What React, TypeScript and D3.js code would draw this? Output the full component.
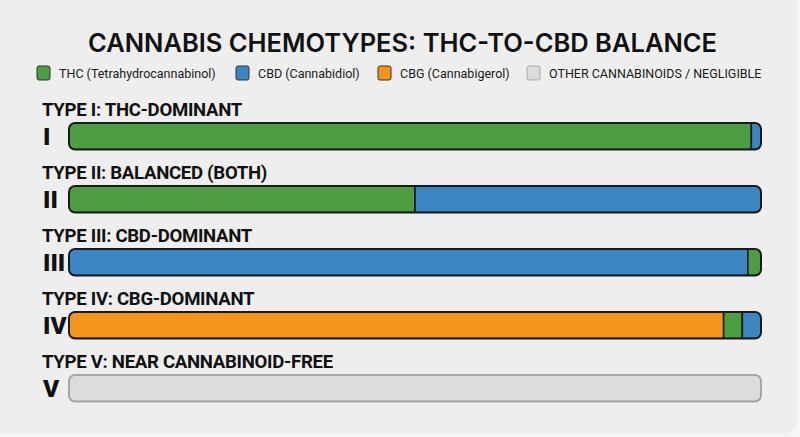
import React from "react";
import * as d3 from "d3";

const keys = ["THC", "CBD", "CBG", "OTHER"];
const legendLabels = [
  "THC (Tetrahydrocannabinol)",
  "CBD (Cannabidiol)",
  "CBG (Cannabigerol)",
  "OTHER CANNABINOIDS / NEGLIGIBLE",
];
const colors = ["#4d9e42", "#3a86c3", "#f3951b", "#dcdcdc"];
const typeTitles = [
  "TYPE I: THC-DOMINANT",
  "TYPE II: BALANCED (BOTH)",
  "TYPE III: CBD-DOMINANT",
  "TYPE IV: CBG-DOMINANT",
  "TYPE V: NEAR CANNABINOID-FREE",
];
const numerals = ["I", "II", "III", "IV", "V"];
const thcValues = [98.6, 50, 1.9, 2.7, 0];
const cbdValues = [1.4, 50, 98.1, 2.7, 0];
const cbgValues = [0, 0, 0, 94.6, 0];
const otherValues = [0, 0, 0, 0, 100];
// left-to-right segment order per row
const rowOrders = [
  ["THC", "CBD"],
  ["THC", "CBD"],
  ["CBD", "THC"],
  ["CBG", "THC", "CBD"],
  ["OTHER"],
];

const W = 800;
const H = 437;

export default function App() {
  const vals: Record<string, number[]> = {
    THC: thcValues,
    CBD: cbdValues,
    CBG: cbgValues,
    OTHER: otherValues,
  };
  const x = d3.scaleLinear().domain([0, 100]).range([69, 761]);
  const y = d3.scalePoint<number>().domain(d3.range(5)).range([136.3, 388.3]);
  const barH = 26.5;
  const colorOf = d3.scaleOrdinal<string, string>().domain(keys).range(colors);

  return (
    <div style={{ position: "fixed", left: 0, top: 0 }}>
      <svg width={W} height={H} style={{ display: "block" }}>
        <rect width={W} height={H} fill="#f6f6f6" />
        <rect x={-20} y={-20} width={W + 17} height={H + 17} rx={14} fill="#eeeeee" />
        <text x={402.5} y={52} textAnchor="middle" fontFamily="Inter, 'Noto Sans', sans-serif" fontWeight={600} fontSize={25.5} fill="#111" textLength={629} lengthAdjust="spacingAndGlyphs">
          CANNABIS CHEMOTYPES: THC-TO-CBD BALANCE
        </text>
        {(() => {
          const xs = [37, 236, 378, 527];
          return legendLabels.map((l, i) => (
            <g key={l}>
              <rect x={xs[i]} y={66} width={13} height={14} rx={2} fill={colors[i]} stroke={i === 3 ? "#aaa" : "#333"} strokeWidth={1} />
              <text x={xs[i] + 22} y={78} fontFamily="Roboto, sans-serif" fontSize={12.5} fill="#1a1a1a">
                {l}
              </text>
            </g>
          ));
        })()}
        <defs>
          {d3.range(5).map((i) => (
            <clipPath id={`clip${i}`} key={i}>
              <rect x={x(0)} y={(y(i) as number) - barH / 2} width={x(100) - x(0)} height={barH} rx={6} />
            </clipPath>
          ))}
        </defs>
        {d3.range(5).map((i) => {
          const cy = y(i) as number;
          const y0 = cy - barH / 2;
          const order = rowOrders[i];
          const stack = d3.stack<any>().keys(order)([Object.fromEntries(order.map((k) => [k, vals[k][i]]))]);
          const isOther = order.length === 1 && order[0] === "OTHER";
          return (
            <g key={i}>
              <text x={42} y={y0 - 7.5} fontFamily="Roboto, sans-serif" fontWeight={700} fontSize={18.6} fill="#111" letterSpacing={-0.3}>
                {typeTitles[i]}
              </text>
              <text x={43} y={cy + 8.5} fontFamily="Roboto, sans-serif" fontWeight={900} fontSize={24.5} fill="#111">
                {numerals[i]}
              </text>
              <g clipPath={`url(#clip${i})`}>
                {stack.map((s) => (
                  <rect
                    key={s.key}
                    x={x(s[0][0])}
                    y={y0}
                    width={x(s[0][1]) - x(s[0][0])}
                    height={barH}
                    fill={colorOf(s.key)}
                    stroke={isOther ? "#a5a5a5" : "#1a1a1a"}
                    strokeWidth={1.6}
                  />
                ))}
              </g>
              <rect x={x(0)} y={y0} width={x(100) - x(0)} height={barH} rx={6} fill="none" stroke={isOther ? "#a5a5a5" : "#1a1a1a"} strokeWidth={2} />
            </g>
          );
        })}
      </svg>
    </div>
  );
}
